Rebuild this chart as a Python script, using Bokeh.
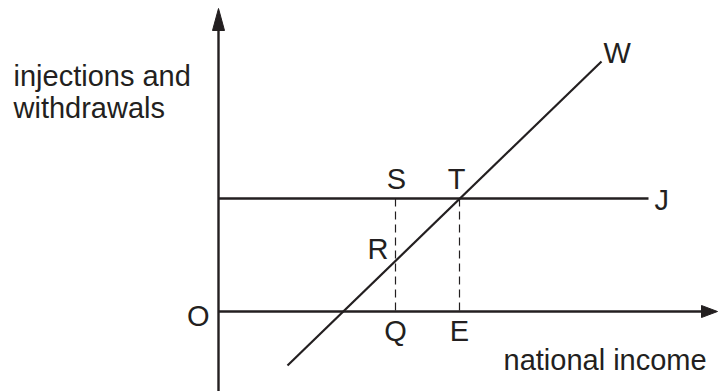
from bokeh.plotting import figure
from bokeh.models import Range1d
from bokeh.core.properties import value
from bokeh.embed import file_html
from bokeh.resources import INLINE

# ---- data (diagram units: O at origin) ----
w_income = [69, 383]          # withdrawals line W, income ends
w_level = [-54, 250]          # withdrawals line W, level at those ends
j_level = 113                 # injections J (constant)
j_income_end = 430            # where J line stops
q_income = 177                # income at Q (S, R above it)
e_income = 241                # equilibrium income E (T above it)
r_level = 50.6                # W at Q income
x_axis_end = 499
y_axis_end = 303
y_axis_start = -90

INK = "#231f20"
FONT = value("Liberation Sans")
SHIFT = -11

p = figure(width=718, height=391, output_backend="svg", toolbar_location=None,
           x_range=Range1d(-218, 500), y_range=Range1d(-80, 311),
           min_border=0, outline_line_color=None)
p.axis.visible = False
p.grid.visible = False

# axes
p.line([0, 0], [y_axis_start, y_axis_end - 15], line_color=INK, line_width=2.4)
p.line([0, x_axis_end - 10], [0, 0], line_color=INK, line_width=2.4)
# arrowheads
p.patch([0, -6, 6], [y_axis_end, y_axis_end - 22, y_axis_end - 22], color=INK)
p.patch([x_axis_end, x_axis_end - 16, x_axis_end - 16], [0, 6, -6], color=INK)

# J and W lines
p.line([0, j_income_end], [j_level, j_level], line_color=INK, line_width=2.3)
p.line(w_income, w_level, line_color=INK, line_width=2.2)

# dashed guides
for xi in (q_income, e_income):
    p.line([xi, xi], [j_level, 0], line_color=INK, line_width=1.2, line_dash="8 5")

def label(x, y, t, align="center", dx=0, dy=0):
    p.text(x=[x], y=[y], text=[t], text_font=FONT, text_font_size="29px",
           text_color=INK, text_align=align, text_baseline="alphabetic",
           x_offset=dx, y_offset=dy + SHIFT)

label(q_income, j_level, "S", dx=1, dy=-9)
label(e_income, j_level, "T", dx=-3, dy=-9)
label(q_income, r_level, "R", align="right", dx=-7, dy=-1)
label(q_income, 0, "Q", dy=30)
label(e_income, 0, "E", dy=30)
label(0, 0, "O", align="right", dx=-9, dy=15)
label(w_income[1], w_level[1], "W", align="left", dx=2, dy=2)
label(j_income_end, j_level, "J", align="left", dx=6, dy=12)
label(285, 0, "national income", align="left", dy=59)
label(-205, 225, "injections and", align="left")
label(-205, 193, "withdrawals", align="left")

open("out.html", "w").write(file_html(p, INLINE))
